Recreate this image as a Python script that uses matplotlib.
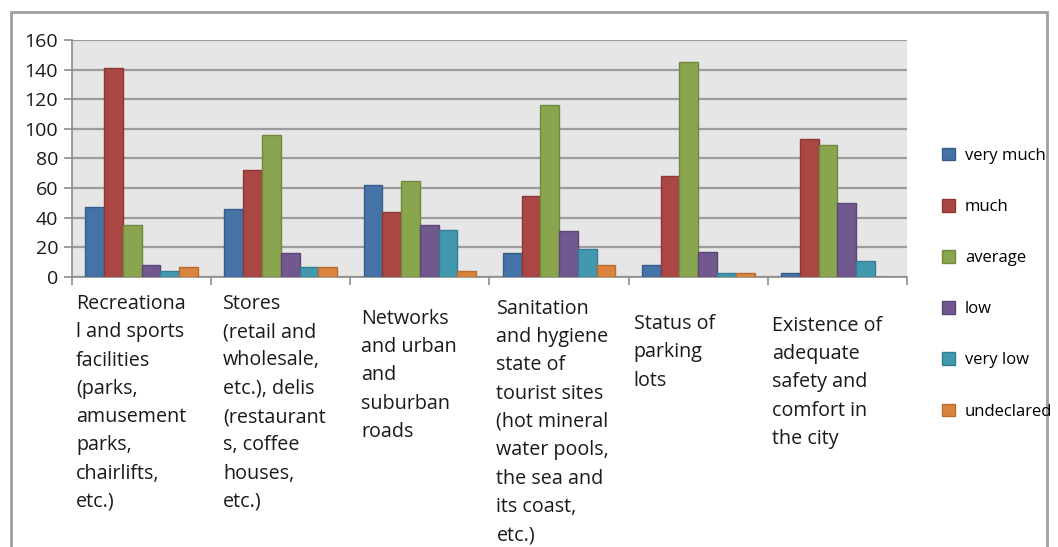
import numpy as np
import matplotlib
matplotlib.use("Agg")
import matplotlib.pyplot as plt
from matplotlib.transforms import blended_transform_factory
from matplotlib.patches import Rectangle, Patch

categories = [
    "Recreationa\nl and sports\nfacilities\n(parks,\namusement\nparks,\nchairlifts,\netc.)",
    "Stores\n(retail and\nwholesale,\netc.), delis\n(restaurant\ns, coffee\nhouses,\netc.)",
    "Networks\nand urban\nand\nsuburban\nroads",
    "Sanitation\nand hygiene\nstate of\ntourist sites\n(hot mineral\nwater pools,\nthe sea and\nits coast,\netc.)",
    "Status of\nparking\nlots",
    "Existence of\nadequate\nsafety and\ncomfort in\nthe city",
]
series_names = ["very much", "much", "average", "low", "very low", "undeclared"]
very_much = [47, 46, 62, 16, 8, 3]
much = [141, 72, 44, 55, 68, 93]
average = [35, 96, 65, 116, 145, 89]
low = [8, 16, 35, 31, 17, 50]
very_low = [4, 7, 32, 19, 3, 11]
undeclared = [7, 7, 4, 8, 3, 0]
series = [very_much, much, average, low, very_low, undeclared]
yticks = [0, 20, 40, 60, 80, 100, 120, 140, 160]

fills = ["#4572A7", "#AA4643", "#89A54E", "#71588F", "#4198AF", "#DB843D"]
edges = ["#385D8A", "#8C3836", "#71893F", "#5C4776", "#357D91", "#B66D31"]

W, H = 1058, 547
fig = plt.figure(figsize=(W / 100, H / 100), dpi=100)
ax = fig.add_axes([72 / W, 1 - 277 / H, (907 - 72) / W, (277 - 40) / H])
ax.set_facecolor("#E6E6E6")

x = np.arange(len(categories))
bw = 0.135
for i, (vals, fc, ec) in enumerate(zip(series, fills, edges)):
    ax.bar(x + (i - 2.5) * bw, vals, bw, color=fc, edgecolor=ec, linewidth=1.0,
           label=series_names[i], zorder=3)

ax.set_xlim(-0.5, len(categories) - 0.5)
ax.set_ylim(0, 160)
ax.set_yticks(yticks)
ax.set_yticklabels([str(v) for v in yticks], fontsize=14, family="Open Sans",
                   color="#1A1A1A")
ax.set_xticks(np.arange(len(categories) + 1) - 0.5)
ax.set_xticklabels([])
ax.tick_params(axis="x", direction="out", length=6, width=1.2, color="#8C8C8C")
ax.tick_params(axis="y", direction="out", length=6, width=1.2, color="#8C8C8C", pad=4)
ax.grid(axis="y", color="#9C9C9C", linewidth=1.6, zorder=1)
for s in ["top", "right"]:
    ax.spines[s].set_visible(False)
ax.spines["left"].set_color("#8C8C8C")
ax.spines["left"].set_linewidth(1.2)
ax.spines["bottom"].set_color("#8C8C8C")
ax.spines["bottom"].set_linewidth(1.2)

# category labels
trans = blended_transform_factory(ax.transData, fig.transFigure)
label_dx = [0.03, 0.086, 0.08, 0.05, 0.036, 0.03]
label_top = [294, 294, 309, 299, 314, 316]
for i, lab in enumerate(categories):
    ax.text(i - 0.5 + label_dx[i], 1 - label_top[i] / H, lab, transform=trans,
            ha="left", va="top", fontsize=14.2, family="Open Sans",
            linespacing=1.55, color="#1A1A1A")

# legend
handles = [Patch(facecolor=fc, edgecolor=ec) for fc, ec in zip(fills, edges)]
fig.legend(handles, series_names, loc="upper left",
           bbox_to_anchor=(935 / W, 1 - 141 / H), frameon=False,
           prop={"family": "Open Sans", "size": 12},
           labelspacing=2.1, handlelength=0.8, handleheight=0.8,
           handletextpad=0.6, borderaxespad=0)

# outer frame
fig.patches.append(Rectangle((11 / W, -0.05), (1047 - 11) / W, 1 - 12 / H + 0.05,
                             transform=fig.transFigure, fill=False,
                             edgecolor="#A0A0A0", linewidth=2))

fig.savefig("out.png", dpi=100)
